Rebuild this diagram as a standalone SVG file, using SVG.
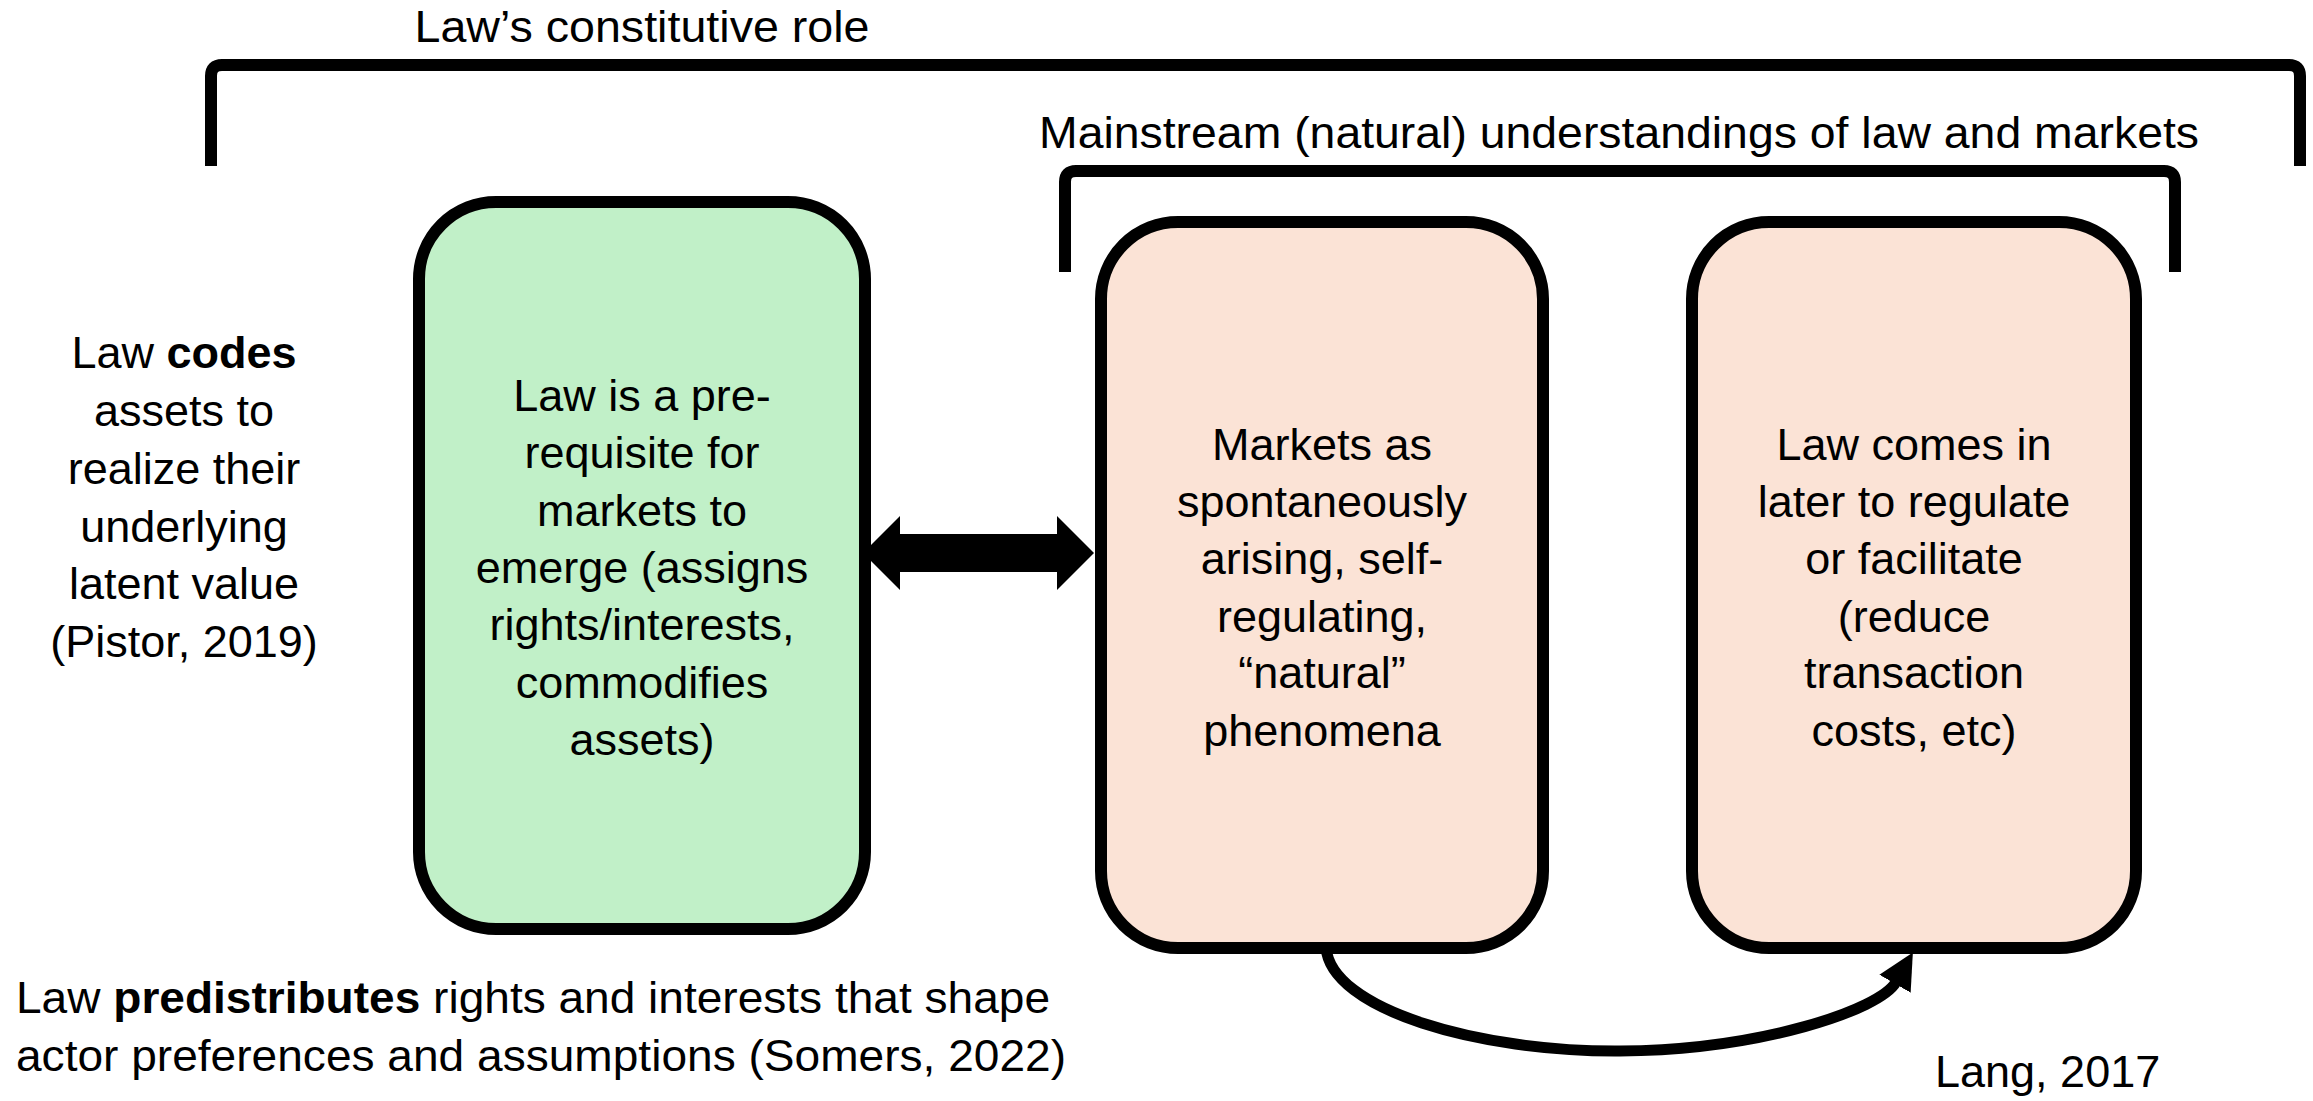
<svg xmlns="http://www.w3.org/2000/svg" width="2313" height="1101" viewBox="0 0 2313 1101">
<defs>
<style>
text{font-family:"Liberation Sans",Arial,sans-serif;fill:#000}
.t{font-size:45px}
.h{font-size:45px}
.c{text-anchor:middle}
.b{font-weight:bold}
.box{stroke:#000;stroke-width:12}
.green{fill:#C1F0C8}
.pink{fill:#FBE3D6}
.brk{fill:none;stroke:#000;stroke-width:12;stroke-linejoin:round}
.con{fill:none;stroke:#000;stroke-width:11}
</style>
<marker id="ah" markerUnits="userSpaceOnUse" viewBox="0 -20 40 40" markerWidth="40" markerHeight="40" refX="2" refY="0" orient="auto">
<path d="M0,-18 L36,0 L0,18 z" fill="#000"/>
</marker>
</defs>
<rect width="2313" height="1101" fill="#fff"/>

<g id="connectors">
<polygon points="863,553 900,516 900,534 1057,534 1057,516 1094,553 1057,590 1057,572 900,572 900,590" fill="#000"/>
<path class="con" d="M1326,947 C1330,1010 1480,1052 1620,1051 C1760,1050 1880,1010 1896,982" marker-end="url(#ah)"/>
</g>

<g id="bracket-outer">
<path class="brk" d="M211,166 L211,76 Q211,65 222,65 L2289,65 Q2300,65 2300,76 L2300,166"/>
<text class="h c" x="642" y="42" textLength="455" lengthAdjust="spacingAndGlyphs">Law’s constitutive role</text>
</g>

<g id="bracket-inner">
<path class="brk" d="M1065,272 L1065,182 Q1065,171 1076,171 L2164,171 Q2175,171 2175,182 L2175,272"/>
<text class="h c" x="1619" y="148" textLength="1160" lengthAdjust="spacingAndGlyphs">Mainstream (natural) understandings of law and markets</text>
</g>

<g id="left-note">
<text class="t c" x="184" y="368">Law <tspan class="b">codes</tspan></text>
<text class="t c" x="184" y="426">assets to</text>
<text class="t c" x="184" y="484">realize their</text>
<text class="t c" x="184" y="542">underlying</text>
<text class="t c" x="184" y="599">latent value</text>
<text class="t c" x="184" y="657">(Pistor, 2019)</text>
</g>

<g id="node-law-prerequisite">
<rect class="box green" x="419" y="202" width="446" height="727" rx="77" ry="77"/>
<text class="t c" x="642" y="411">Law is a pre-</text>
<text class="t c" x="642" y="468">requisite for</text>
<text class="t c" x="642" y="526">markets to</text>
<text class="t c" x="642" y="583">emerge (assigns</text>
<text class="t c" x="642" y="640">rights/interests,</text>
<text class="t c" x="642" y="698">commodifies</text>
<text class="t c" x="642" y="755">assets)</text>
</g>

<g id="node-markets">
<rect class="box pink" x="1101" y="222" width="442" height="726" rx="77" ry="77"/>
<text class="t c" x="1322" y="460">Markets as</text>
<text class="t c" x="1322" y="517">spontaneously</text>
<text class="t c" x="1322" y="574">arising, self-</text>
<text class="t c" x="1322" y="632">regulating,</text>
<text class="t c" x="1322" y="688">“natural”</text>
<text class="t c" x="1322" y="746">phenomena</text>
</g>

<g id="node-law-later">
<rect class="box pink" x="1692" y="222" width="444" height="726" rx="77" ry="77"/>
<text class="t c" x="1914" y="460">Law comes in</text>
<text class="t c" x="1914" y="517">later to regulate</text>
<text class="t c" x="1914" y="574">or facilitate</text>
<text class="t c" x="1914" y="632">(reduce</text>
<text class="t c" x="1914" y="688">transaction</text>
<text class="t c" x="1914" y="746">costs, etc)</text>
</g>

<g id="bottom-note">
<text class="t" x="16" y="1013" textLength="1034" lengthAdjust="spacingAndGlyphs">Law <tspan class="b">predistributes</tspan> rights and interests that shape</text>
<text class="t" x="16" y="1071" textLength="1050" lengthAdjust="spacingAndGlyphs">actor preferences and assumptions (Somers, 2022)</text>
</g>

<g id="citation">
<text class="t" x="1935" y="1087">Lang, 2017</text>
</g>
</svg>
